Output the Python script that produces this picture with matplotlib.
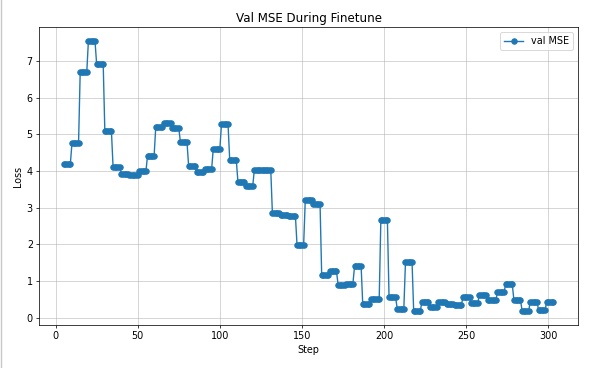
import numpy as np
import matplotlib
matplotlib.use("Agg")
import matplotlib.pyplot as plt

# val MSE held constant between evaluations (one value per plateau)
plateau_values = [
    4.19, 4.76, 6.69, 7.55, 6.92, 5.09, 4.12, 3.93, 3.90, 3.99,
    4.42, 5.20, 5.32, 5.17, 4.79, 4.14, 3.97, 4.05, 4.60, 5.27,
    4.31, 3.71, 3.58, 4.03, 4.03, 2.84, 2.81, 2.78, 1.97, 3.20,
    3.11, 1.15, 1.26, 0.90, 0.93, 1.40, 0.36, 0.50, 2.65, 0.55,
    0.24, 1.52, 0.17, 0.44, 0.29, 0.43, 0.38, 0.34, 0.56, 0.40,
    0.63, 0.47, 0.70, 0.91, 0.48, 0.19, 0.44, 0.21, 0.44,
]
# number of logged steps in each plateau
plateau_lengths = [5] * len(plateau_values)
for i in (8, 23, 37, 51):
    plateau_lengths[i] = 6

first_step = 5
val_mse = np.repeat(plateau_values, plateau_lengths)
steps = np.arange(first_step, first_step + len(val_mse))

dpi = 66
fig, ax = plt.subplots(figsize=(589 / dpi, 368 / dpi), dpi=dpi)
fig.subplots_adjust(left=0.0667, right=0.981, top=0.926, bottom=0.117)

ax.plot(steps, val_mse, marker="o", label="val MSE")
ax.set_title("Val MSE During Finetune", fontsize=13)
ax.set_xlabel("Step", fontsize=10.5)
ax.set_ylabel("Loss", fontsize=10.5)
ax.tick_params(labelsize=10.5)
ax.grid(True, color="#b0b0b0", alpha=0.7)
ax.legend(loc="upper right", fontsize=10.5)

# thin grey edge seen on the left of the screenshot
fig.add_artist(plt.Line2D([0.002, 0.002], [0, 1], color="#c8c8c8", lw=1.5,
                          transform=fig.transFigure))

fig.savefig("out.png", dpi=dpi)
